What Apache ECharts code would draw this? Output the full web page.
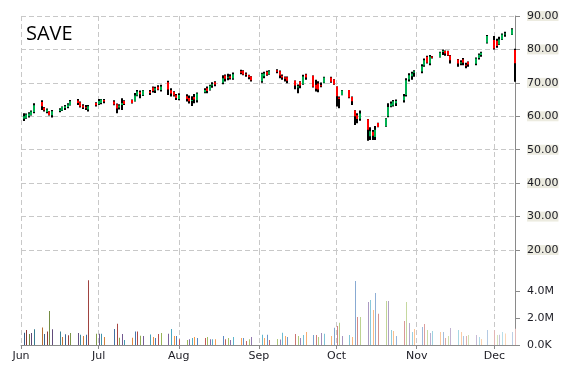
<!DOCTYPE html>
<html>
<head>
<meta charset="utf-8">
<script src="https://cdn.jsdelivr.net/npm/echarts@6/dist/echarts.min.js"></script>
<style>
html,body{margin:0;padding:0;background:#fff;}
#main{width:570px;height:370px;}
</style>
</head>
<body>
<div id="main"></div>
<script>
const ticker = 'SAVE';
const dates = [
'2014-06-02','2014-06-03','2014-06-04','2014-06-05','2014-06-06','2014-06-09','2014-06-10','2014-06-11','2014-06-12','2014-06-13',
'2014-06-16','2014-06-17','2014-06-18','2014-06-19','2014-06-20','2014-06-23','2014-06-24','2014-06-25','2014-06-26','2014-06-27','2014-06-30',
'2014-07-01','2014-07-02','2014-07-03','2014-07-07','2014-07-08','2014-07-09','2014-07-10','2014-07-11','2014-07-14','2014-07-15',
'2014-07-16','2014-07-17','2014-07-18','2014-07-21','2014-07-22','2014-07-23','2014-07-24','2014-07-25','2014-07-28','2014-07-29','2014-07-30','2014-07-31',
'2014-08-01','2014-08-04','2014-08-05','2014-08-06','2014-08-07','2014-08-08','2014-08-11','2014-08-12','2014-08-13','2014-08-14','2014-08-15',
'2014-08-18','2014-08-19','2014-08-20','2014-08-21','2014-08-22','2014-08-25','2014-08-26','2014-08-27','2014-08-28','2014-08-29',
'2014-09-02','2014-09-03','2014-09-04','2014-09-05','2014-09-08','2014-09-09','2014-09-10','2014-09-11','2014-09-12','2014-09-15',
'2014-09-16','2014-09-17','2014-09-18','2014-09-19','2014-09-22','2014-09-23','2014-09-24','2014-09-25','2014-09-26','2014-09-29','2014-09-30',
'2014-10-01','2014-10-02','2014-10-03','2014-10-06','2014-10-07','2014-10-08','2014-10-09','2014-10-10','2014-10-13','2014-10-14','2014-10-15',
'2014-10-16','2014-10-17','2014-10-20','2014-10-21','2014-10-22','2014-10-23','2014-10-24','2014-10-27','2014-10-28','2014-10-29','2014-10-30','2014-10-31',
'2014-11-03','2014-11-04','2014-11-05','2014-11-06','2014-11-07','2014-11-10','2014-11-11','2014-11-12','2014-11-13','2014-11-14',
'2014-11-17','2014-11-18','2014-11-19','2014-11-20','2014-11-21','2014-11-24','2014-11-25','2014-11-26','2014-11-28',
'2014-12-01','2014-12-02','2014-12-03','2014-12-04','2014-12-05','2014-12-08','2014-12-09'
];
const openPrices = [
59.3,59.5,60.0,60.4,61.3,64.3,62.6,61.3,61.4,60.3,
61.6,61.7,62.5,62.8,63.4,64.7,64.2,63.2,62.7,62.0,64.0,
63.6,64.0,64.9,64.4,63.6,62.6,63.4,64.6,64.9,64.6,
66.2,67.2,66.3,67.4,68.6,67.7,68.8,67.9,70.2,67.8,67.3,66.3,
65.2,66.0,65.5,64.6,65.8,64.8,67.2,68.4,67.9,69.2,70.2,
70.0,72.2,71.6,72.0,71.3,73.5,73.6,72.7,72.3,71.9,
70.5,72.0,73.3,72.6,73.8,73.5,72.1,71.7,71.7,70.6,
68.6,70.3,69.6,72.5,72.1,69.4,69.8,69.3,70.0,71.6,71.0,
68.9,65.6,66.4,67.9,65.8,61.7,60.3,59.3,59.1,54.0,55.4,
53.8,58.0,57.0,60.0,63.0,63.2,63.9,64.8,66.4,71.0,72.0,73.0,
73.4,75.2,77.8,75.8,77.9,77.7,79.2,79.5,79.5,78.2,
77.0,75.8,77.0,75.4,76.3,75.7,77.4,78.3,82.0,
82.8,82.6,81.5,83.0,84.5,84.4,79.8
];
const highPrices = [
60.9,60.8,61.2,61.7,63.9,64.8,62.8,62.3,61.5,61.9,
62.4,62.9,63.4,63.9,64.9,65.2,64.4,63.6,63.4,63.4,64.2,
65.2,65.2,65.2,64.8,63.8,63.6,65.4,64.8,65.0,67.0,
67.9,67.7,67.9,67.9,68.9,68.8,69.3,69.4,70.6,68.4,67.5,66.7,
66.9,66.6,66.2,66.0,66.7,67.1,68.4,68.9,69.4,70.2,70.5,
72.3,72.5,72.7,72.6,73.1,73.9,73.8,73.1,72.4,72.0,
73.0,73.3,73.6,73.8,74.1,73.7,72.5,71.9,71.9,70.7,
69.5,70.5,72.4,72.7,72.2,70.9,70.5,70.1,71.8,71.8,71.1,
68.9,65.9,67.9,67.9,65.9,61.8,60.9,61.7,59.2,56.7,55.9,
57.1,58.1,59.4,63.9,64.4,64.9,65.0,66.7,71.4,72.9,73.3,73.8,
75.6,77.3,78.1,78.3,78.0,79.3,80.0,79.7,79.6,78.3,
77.1,76.8,77.4,76.0,76.4,77.6,78.8,79.3,84.3,
84.0,83.2,83.8,84.8,85.3,86.3,80.2
];
const lowPrices = [
58.6,59.3,59.6,60.2,60.9,61.9,61.4,60.9,60.2,59.6,
61.2,61.6,61.9,62.4,63.2,63.4,62.6,62.2,61.9,61.4,62.9,
63.4,63.6,63.9,63.3,60.9,62.0,61.9,63.4,63.8,64.4,
66.0,65.4,66.1,66.4,67.1,67.0,67.8,67.4,66.4,65.9,65.9,64.9,
64.8,64.4,63.8,63.1,63.9,64.1,66.9,66.9,67.7,68.5,69.0,
69.6,70.4,70.8,71.0,70.9,72.6,72.3,71.8,71.1,70.4,
70.0,71.4,72.1,72.4,72.9,71.4,70.9,70.4,69.9,68.1,
66.9,68.4,69.4,70.9,68.6,67.4,67.2,68.7,69.9,70.0,69.4,
62.9,62.4,66.3,65.4,63.4,57.4,57.9,58.7,52.7,52.9,52.9,
52.9,56.7,56.9,59.7,62.7,62.9,63.1,64.1,65.9,70.4,70.9,71.8,
72.9,74.8,75.8,75.3,77.3,77.6,78.3,78.1,78.0,75.8,
74.8,75.3,75.3,74.4,74.8,75.3,77.0,77.8,81.8,
80.0,80.5,81.3,82.8,83.8,84.3,70.3
];
const closePrices = [
60.0,60.5,60.8,61.4,63.3,63.0,61.8,62.0,60.4,61.5,
62.0,62.8,63.0,63.5,64.5,64.0,62.9,62.6,62.4,63.0,63.3,
64.6,65.0,64.4,63.5,62.3,63.2,64.0,63.7,64.0,66.2,
67.4,66.6,67.7,67.0,67.6,68.4,68.0,68.9,68.0,66.8,66.2,65.5,
66.4,65.2,64.5,64.9,65.0,66.8,67.9,67.6,69.1,69.6,69.5,
71.4,71.2,71.8,71.4,72.6,73.0,72.5,72.4,71.7,70.8,
72.7,72.8,72.4,73.5,73.3,72.2,71.6,71.2,70.6,69.2,
69.0,69.2,71.9,71.6,68.8,68.2,68.0,69.0,71.6,70.3,69.5,
66.0,65.2,67.7,65.6,64.5,60.0,59.2,60.8,56.0,55.5,54.2,
56.0,56.8,59.3,62.8,63.8,64.5,64.6,66.0,70.8,72.3,72.8,73.5,
75.0,76.8,76.0,77.9,77.5,79.1,79.6,78.8,78.2,76.8,
75.8,76.2,76.0,75.2,75.5,77.3,78.4,79.0,84.0,
80.3,81.0,83.0,84.5,84.8,86.0,75.9
];
const volumeM = [
0.9,1.11,0.81,0.89,1.16,1.30,0.81,1.0,2.52,1.16,
1.0,0.6,0.8,0.72,0.89,0.89,0.75,0.67,0.75,4.8,0.84,
0.84,0.84,0.6,1.19,1.58,0.54,0.81,0.37,0.54,1.0,
1.0,0.69,0.67,0.77,0.6,0.52,0.81,0.89,0.84,1.19,0.67,0.67,
0.42,0.37,0.42,0.52,0.6,0.52,0.52,0.6,0.42,0.42,0.42,
0.67,0.42,0.52,0.37,0.6,0.52,0.52,0.3,0.42,0.6,
0.75,0.52,0.75,0.37,0.44,0.4,0.91,0.67,0.6,0.81,
0.67,0.52,0.74,0.96,0.74,0.74,0.6,0.89,0.84,0.67,1.28,
1.41,1.65,0.67,0.74,0.6,4.74,2.07,2.07,3.19,3.33,2.59,
3.85,2.32,3.26,3.26,1.11,1.04,0.67,1.78,3.19,1.63,0.96,1.19,
1.33,1.56,1.11,0.89,1.04,0.96,0.96,0.52,0.67,1.26,
1.11,0.96,0.67,0.67,0.74,0.74,0.6,0.44,1.11,
1.1,0.74,0.75,0.96,0.85,0.96,1.2
];
const monthTicks = ['2014-06-01','2014-07-01','2014-08-01','2014-09-01','2014-10-01','2014-11-01','2014-12-01'];
const monthLabels = ['Jun','Jul','Aug','Sep','Oct','Nov','Dec'];
const priceTicks = [20, 30, 40, 50, 60, 70, 80, 90];
const volumeTicksM = [0, 2, 4];
const xStart = '2014-06-01';
const xEnd = '2014-12-09';

const palette = ['#4F81BD','#C0504D','#9BBB59','#8064A2','#4BACC6','#F79646'];
function shade(hex, f) {
  const n = parseInt(hex.slice(1), 16);
  let r = (n >> 16) & 255, g = (n >> 8) & 255, b = n & 255;
  if (f < 0) { r *= (1 + f); g *= (1 + f); b *= (1 + f); }
  else { r += (255 - r) * f; g += (255 - g) * f; b += (255 - b) * f; }
  return 'rgb(' + Math.round(r) + ',' + Math.round(g) + ',' + Math.round(b) + ')';
}
const ts = s => echarts.time.parse(s).getTime();

const tickVals = monthTicks.map(ts);
function monthFmt(v) {
  let best = 0, bd = Infinity;
  tickVals.forEach((t, i) => { const d = Math.abs(t - v); if (d < bd) { bd = d; best = i; } });
  return monthLabels[best];
}

const candleData = dates.map((d, i) => [ts(d), openPrices[i], closePrices[i], lowPrices[i], highPrices[i]]);
const volData = dates.map((d, i) => [ts(d), volumeM[i]]);

const FONT = 'DejaVu Sans';
const gridColor = '#c8c8c8';
const axisColor = '#8a8a8a';

const chart = echarts.init(document.getElementById('main'), null, {renderer: 'canvas'});
chart.setOption({
  animation: false,
  backgroundColor: '#fff',
  title: {
    text: ticker, left: 26, top: 24, padding: 0,
    textStyle: {fontFamily: 'Open Sans', fontSize: 20, fontWeight: 'normal', color: '#000'}
  },
  grid: [
    {left: 21, right: 55, top: 16, height: 234},
    {left: 21, right: 55, top: 250, height: 95}
  ],
  xAxis: [
    {
      type: 'value', gridIndex: 0, min: ts(xStart), max: ts(xEnd), scale: true,
      axisLine: {show: false},
      axisTick: {show: false, customValues: tickVals},
      axisLabel: {show: false, customValues: tickVals},
      splitLine: {show: true, lineStyle: {color: gridColor, type: [5, 3], width: 1}}
    },
    {
      type: 'value', gridIndex: 1, min: ts(xStart), max: ts(xEnd), scale: true,
      axisLine: {show: true, onZero: false, lineStyle: {color: axisColor, width: 1}},
      axisTick: {show: true, length: 4, customValues: tickVals, lineStyle: {color: axisColor}},
      axisLabel: {show: true, customValues: tickVals, formatter: monthFmt, margin: 6,
        fontFamily: FONT, fontSize: 11, color: '#1c1c24'},
      splitLine: {show: true, lineStyle: {color: gridColor, type: [5, 3], width: 1}}
    }
  ],
  yAxis: [
    {
      type: 'value', gridIndex: 0, position: 'right', min: 20, max: 90, interval: 10,
      axisLine: {show: true, lineStyle: {color: axisColor, width: 1}},
      axisTick: {show: true, length: 5, lineStyle: {color: axisColor}},
      axisLabel: {show: true, margin: 12, formatter: v => v.toFixed(2),
        fontFamily: FONT, fontSize: 11, color: '#1c1c24',
        backgroundColor: '#ecebe0', padding: [1, 0, 0, 0], lineHeight: 9},
      splitLine: {show: true, lineStyle: {color: gridColor, type: [5, 3], width: 1}}
    },
    {
      type: 'value', gridIndex: 1, position: 'right', min: 0, max: 7.037,
      axisLine: {show: true, lineStyle: {color: axisColor, width: 1}},
      axisTick: {show: true, length: 5, customValues: volumeTicksM, lineStyle: {color: axisColor}},
      axisLabel: {show: true, margin: 12, customValues: volumeTicksM,
        formatter: v => v === 0 ? '0.0K' : v.toFixed(1) + 'M',
        fontFamily: FONT, fontSize: 11, color: '#1c1c24'},
      splitLine: {show: false}
    }
  ],
  series: [
    {
      type: 'custom', xAxisIndex: 0, yAxisIndex: 0, clip: false,
      encode: {x: 0, y: [1, 2, 3, 4]},
      data: candleData,
      renderItem: function (params, api) {
        const t = api.value(0), o = api.value(1), c = api.value(2), l = api.value(3), h = api.value(4);
        const pH = api.coord([t, h]), pL = api.coord([t, l]);
        const pO = api.coord([t, o]), pC = api.coord([t, c]);
        const x = Math.round(pH[0]) - 1;
        const top = Math.min(pO[1], pC[1]);
        const bh = Math.max(Math.abs(pO[1] - pC[1]), 1);
        return {
          type: 'group',
          children: [
            {type: 'rect', shape: {x: x, y: pH[1], width: 2, height: Math.max(pL[1] - pH[1], 1)}, style: {fill: '#000'}},
            {type: 'rect', shape: {x: x, y: top, width: 2, height: bh}, style: {fill: c >= o ? '#00b050' : '#ff0000'}}
          ]
        };
      }
    },
    {
      type: 'custom', xAxisIndex: 1, yAxisIndex: 1,
      encode: {x: 0, y: 1},
      data: volData,
      renderItem: function (params, api) {
        const t = api.value(0), v = api.value(1);
        const p = api.coord([t, v]), p0 = api.coord([t, 0]);
        const i = params.dataIndex;
        const f = -0.3 + 0.92 * i / (dates.length - 1);
        return {
          type: 'rect',
          shape: {x: Math.round(p[0]), y: p[1], width: 1, height: p0[1] - p[1]},
          style: {fill: shade(palette[i % palette.length], f)}
        };
      }
    }
  ]
});
</script>
</body>
</html>
